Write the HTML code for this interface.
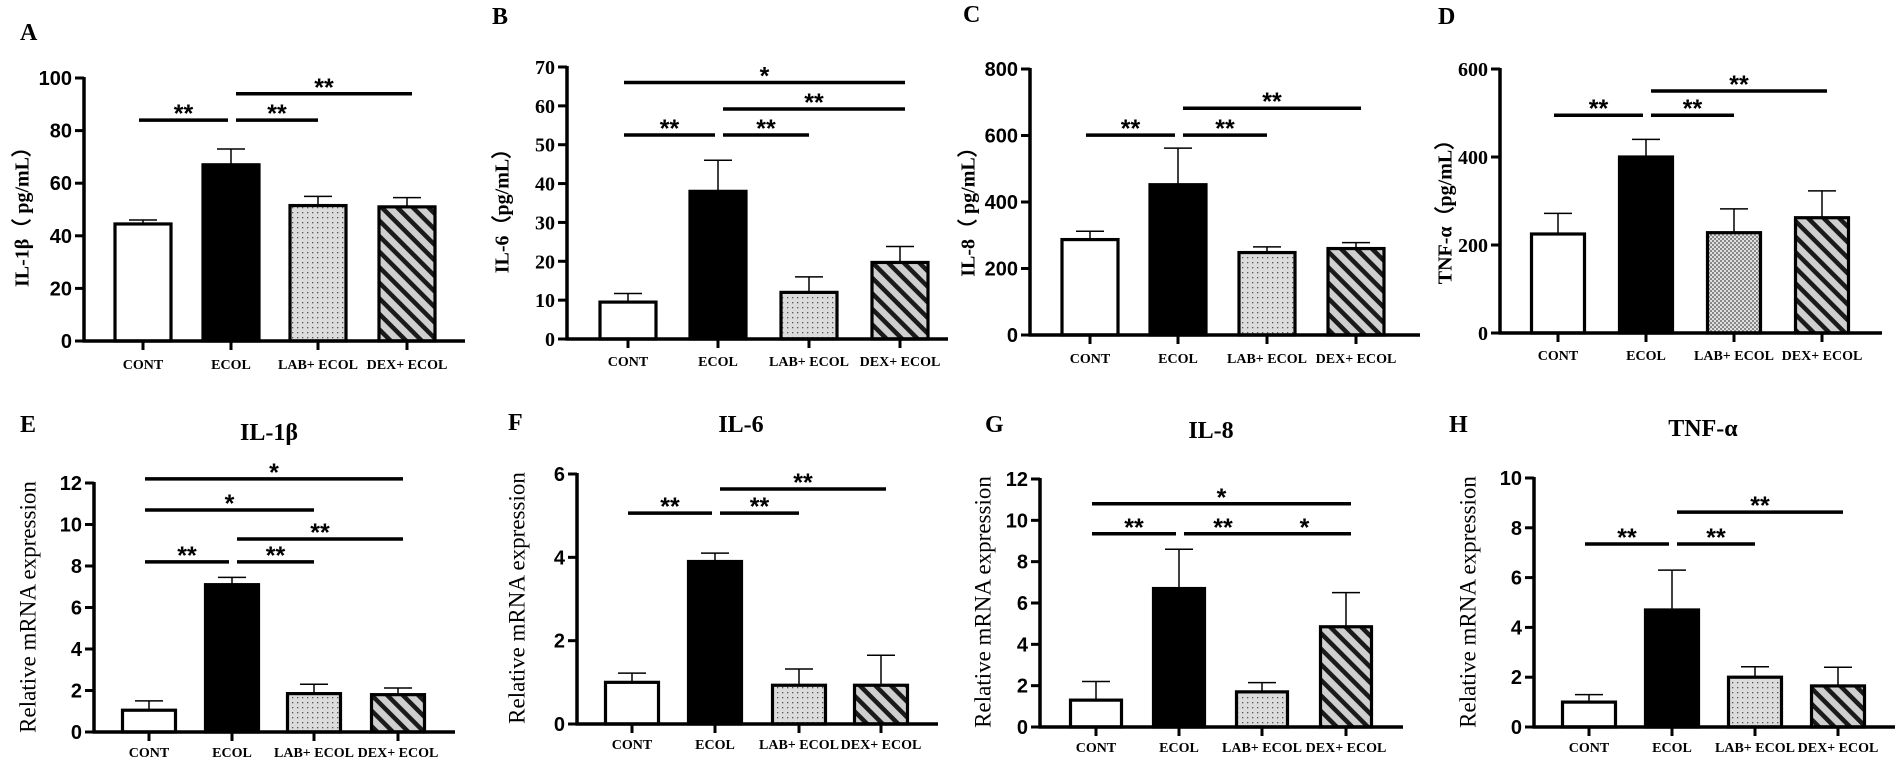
<!DOCTYPE html>
<html><head><meta charset="utf-8"><style>
html,body{margin:0;padding:0;background:#fff;width:1902px;height:769px;overflow:hidden}
svg{display:block}
</style></head><body>
<svg id="fig" width="1902" height="769" viewBox="0 0 1902 769" xmlns="http://www.w3.org/2000/svg">
<defs>
<pattern id="dots" width="5" height="5" patternUnits="userSpaceOnUse"><rect width="5" height="5" fill="#dcdcdc"/><rect x="2" y="2" width="1.3" height="1.3" fill="#555"/></pattern>
<pattern id="checker" width="4" height="4" patternUnits="userSpaceOnUse"><rect width="4" height="4" fill="#e0e0e0"/><rect width="2" height="2" fill="#888"/><rect x="2" y="2" width="2" height="2" fill="#888"/></pattern>
<pattern id="stripes" width="11" height="11" patternUnits="userSpaceOnUse" patternTransform="rotate(-45)"><rect width="11" height="11" fill="#cfcfcf"/><rect width="4.5" height="11" fill="#1a1a1a"/></pattern>
</defs>
</svg>
<script>
const categories = ["CONT","ECOL","LAB+ ECOL","DEX+ ECOL"];

const A_means=[44.5,67,51.5,51], A_errs=[46,73,55,54.5], A_ticks=[0,20,40,60,80,100];
const B_means=[9.5,38,12,19.7], B_errs=[11.7,46,16,23.8], B_ticks=[0,10,20,30,40,50,60,70];
const C_means=[287,452,248,260], C_errs=[312,562,265,278], C_ticks=[0,200,400,600,800];
const D_means=[225,400,228,262], D_errs=[272,440,282,323], D_ticks=[0,200,400,600];
const E_means=[1.05,7.1,1.85,1.8], E_errs=[1.5,7.45,2.3,2.12], E_ticks=[0,2,4,6,8,10,12];
const F_means=[1.0,3.9,0.93,0.93], F_errs=[1.22,4.1,1.32,1.65], F_ticks=[0,2,4,6];
const G_means=[1.3,6.7,1.7,4.85], G_errs=[2.2,8.6,2.15,6.5], G_ticks=[0,2,4,6,8,10,12];
const H_means=[1.0,4.7,2.0,1.65], H_errs=[1.3,6.3,2.42,2.4], H_ticks=[0,2,4,6,8,10];

const A_sig=[[0,1,84,"**"],[1,2,84,"**"],[1,3,94,"**"]];
const B_sig=[[0,3,66,"*"],[1,3,59.2,"**"],[0,1,52.5,"**"],[1,2,52.5,"**"]];
const C_sig=[[0,1,601,"**"],[1,2,601,"**"],[1,3,682,"**"]];
const D_sig=[[0,1,495,"**"],[1,2,495,"**"],[1,3,550,"**"]];
const E_sig=[[0,3,12.2,"*"],[0,2,10.7,"*"],[1,3,9.3,"**"],[0,1,8.2,"**"],[1,2,8.2,"**"]];
const F_sig=[[0,1,5.06,"**"],[1,2,5.06,"**"],[1,3,5.64,"**"]];
const G_sig=[[0,3,10.8,"*"],[0,1,9.35,"**"],[1,2,9.35,"**"],[2,3,9.35,"*"]];
const H_sig=[[0,1,7.35,"**"],[1,2,7.35,"**"],[1,3,8.63,"**"]];

const SANS='"Liberation Sans", Arial, sans-serif', SERIF='"Liberation Serif", "Times New Roman", serif';
const panels=[
 {id:"a",letter:"A",lx:20,ly:40,means:A_means,errs:A_errs,ticks:A_ticks,sig:A_sig,ax:84,y0:341,ytop:78,right:465,cx:[143,231,318,407],bw:56,caty:369,tickFont:SANS,ytitle:"IL-1β（ pg/mL）",ytx:24,yty:212,ytFont:SERIF,ytBold:true,ytSize:20,lab:"url(#dots)"},
 {id:"b",letter:"B",lx:492,ly:24,means:B_means,errs:B_errs,ticks:B_ticks,sig:B_sig,ax:567,y0:339,ytop:67,right:948,cx:[628,718,809,900],bw:56,caty:366,tickFont:SERIF,ytitle:"IL-6（pg/mL）",ytx:504,yty:206,ytFont:SERIF,ytBold:true,ytSize:20,lab:"url(#dots)"},
 {id:"c",letter:"C",lx:963,ly:22,means:C_means,errs:C_errs,ticks:C_ticks,sig:C_sig,ax:1030,y0:335,ytop:69,right:1420,cx:[1090,1178,1267,1356],bw:56,caty:363,tickFont:SANS,ytitle:"IL-8（ pg/mL）",ytx:970,yty:207,ytFont:SERIF,ytBold:true,ytSize:20,lab:"url(#dots)"},
 {id:"d",letter:"D",lx:1438,ly:24,means:D_means,errs:D_errs,ticks:D_ticks,sig:D_sig,ax:1500,y0:333,ytop:69,right:1882,cx:[1558,1646,1734,1822],bw:53,caty:360,tickFont:SERIF,ytitle:"TNF-α（pg/mL）",ytx:1447,yty:207,ytFont:SERIF,ytBold:true,ytSize:20,lab:"url(#checker)"},
 {id:"e",letter:"E",lx:20,ly:432,title:"IL-1β",tx:269,ty:440,means:E_means,errs:E_errs,ticks:E_ticks,sig:E_sig,ax:94,y0:732,ytop:483,right:455,cx:[149,232,314,398],bw:53,caty:757,tickFont:SANS,ytitle:"Relative mRNA expression",ytx:30,yty:607,ytFont:SERIF,ytBold:false,ytSize:23,lab:"url(#dots)"},
 {id:"f",letter:"F",lx:508,ly:430,title:"IL-6",tx:741,ty:432,means:F_means,errs:F_errs,ticks:F_ticks,sig:F_sig,ax:577,y0:724,ytop:474,right:938,cx:[632,715,799,881],bw:53,caty:749,tickFont:SANS,ytitle:"Relative mRNA expression",ytx:519,yty:598,ytFont:SERIF,ytBold:false,ytSize:23,lab:"url(#dots)"},
 {id:"g",letter:"G",lx:985,ly:432,title:"IL-8",tx:1211,ty:438,means:G_means,errs:G_errs,ticks:G_ticks,sig:G_sig,ax:1040,y0:727,ytop:479,right:1403,cx:[1096,1179,1262,1346],bw:51,caty:752,tickFont:SANS,ytitle:"Relative mRNA expression",ytx:985,yty:602,ytFont:SERIF,ytBold:false,ytSize:23,lab:"url(#dots)"},
 {id:"h",letter:"H",lx:1449,ly:432,title:"TNF-α",tx:1703,ty:436,means:H_means,errs:H_errs,ticks:H_ticks,sig:H_sig,ax:1534,y0:727,ytop:478,right:1895,cx:[1589,1672,1755,1838],bw:53,caty:752,tickFont:SANS,ytitle:"Relative mRNA expression",ytx:1470,yty:602,ytFont:SERIF,ytBold:false,ytSize:23,lab:"url(#dots)"}
];
const NS="http://www.w3.org/2000/svg", svg=document.getElementById("fig");
function mk(tag,attrs,parent){const e=document.createElementNS(NS,tag);for(const k in attrs)e.setAttribute(k,attrs[k]);(parent||svg).appendChild(e);return e;}
const fills=["#fff","#000",null,"url(#stripes)"];
panels.forEach(p=>{
 const g=mk("g",{});
 
 
 const tmax=p.ticks[p.ticks.length-1];
 const y=v=>p.y0-(v/tmax)*(p.y0-p.ytop);
 const L=mk("text",{x:p.lx,y:p.ly,"font-family":SERIF,"font-weight":"bold","font-size":24},g);L.textContent=p.letter;
 
 
 if(p.title){const T=mk("text",{x:p.tx,y:p.ty,"text-anchor":"middle","font-family":SERIF,"font-weight":"bold","font-size":24},g);T.textContent=p.title;
  
  }
 const yt=mk("text",{x:p.ytx,y:p.yty,"text-anchor":"middle","font-family":p.ytFont,"font-weight":p.ytBold?"bold":"normal","font-size":p.ytSize,transform:`rotate(-90 ${p.ytx} ${p.yty})`,"dominant-baseline":"middle"},g);yt.textContent=p.ytitle;
 
 
 p.means.forEach((m,i)=>{
  const cx=p.cx[i],top=y(m),et=y(p.errs[i]);
  const el=mk("line",{x1:cx,x2:cx,y1:top,y2:et,stroke:"#000","stroke-width":1.5},g);
  
  
  const cap=mk("line",{x1:cx-14,x2:cx+14,y1:et,y2:et,stroke:"#000","stroke-width":1.5},g);
  
  
  const r=mk("rect",{x:cx-p.bw/2,y:top,width:p.bw,height:p.y0-top,fill:i===2?p.lab:fills[i],stroke:"#000","stroke-width":3.2},g);
  
  
  const xt=mk("line",{x1:cx,x2:cx,y1:p.y0,y2:p.y0+9,stroke:"#000","stroke-width":3},g);
  
  
  const cl=mk("text",{x:cx,y:p.caty,"text-anchor":"middle","font-family":SERIF,"font-weight":"bold","font-size":14},g);cl.textContent=categories[i];
  
  
 });
 const ya=mk("line",{x1:p.ax,x2:p.ax,y1:p.ytop-1,y2:p.y0+1.5,stroke:"#000","stroke-width":3.5},g);
 
 
 const xa=mk("line",{x1:p.ax-1.5,x2:p.right,y1:p.y0,y2:p.y0,stroke:"#000","stroke-width":3.5},g);
 
 
 p.ticks.forEach(t=>{
  const ty=y(t);
  const tl=mk("line",{x1:p.ax-9,x2:p.ax,y1:ty,y2:ty,stroke:"#000","stroke-width":3},g);
  
  
  const tx=mk("text",{x:p.ax-12,y:ty+7,"text-anchor":"end","font-family":p.tickFont,"font-weight":"bold","font-size":20},g);tx.textContent=t;
  
  
 });
 p.sig.forEach(s=>{
  const [i,j,v,lab]=s;
  const x1=p.cx[i]+(i===1?5:-4), x2=p.cx[j]+(j===1?-3:(j===3?5:0));
  const sy=y(v);
  const sl=mk("line",{x1:x1,x2:x2,y1:sy,y2:sy,stroke:"#000","stroke-width":3.5},g);
  
  
  const st=mk("text",{x:(x1+x2)/2,y:sy+2,"text-anchor":"middle","font-family":SANS,"font-weight":"bold","font-size":25},g);st.textContent=lab;
  
  
 });
});
</script>
</body></html>
